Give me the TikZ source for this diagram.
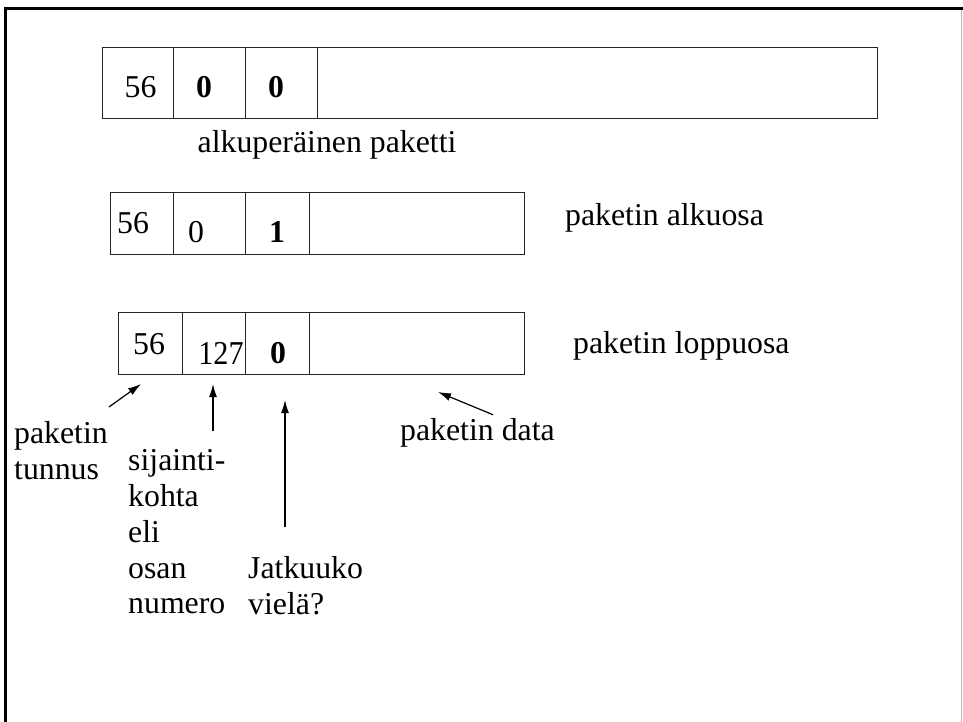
\documentclass[tikz,border=0pt]{standalone}
\usepackage{fontspec}
\setmainfont{Liberation Serif}
\usetikzlibrary{arrows.meta}

\begin{document}
\begin{tikzpicture}[x=1pt,y=-1pt,
        every node/.style={font=\fontsize{31.8}{35.8}\selectfont,inner sep=0pt},
        cell/.style={draw=black!85,line width=1.3pt,anchor=north west,minimum height=62pt},
        pointer/.style={line width=1.2pt,-{Latex[length=13pt,width=8pt]}}]
            \useasboundingbox (0,0) rectangle (963,722);

            %%% FRAME %%%
            \draw[line width=3pt] (5,722)--(5,8.5)--(963,8.5);
            \draw[line width=1.5pt,gray!55] (961.5,10)--(961.5,722);

            %%% ORIGINAL PACKET %%%
            \node[cell,minimum width=71pt,minimum height=71pt] (orig-id) at (102,47) {};
            \node[cell,minimum width=72pt,minimum height=71pt] (orig-pos) at (173,47) {};
            \node[cell,minimum width=72pt,minimum height=71pt] (orig-more) at (245,47) {};
            \node[cell,minimum width=560pt,minimum height=71pt] (orig-data) at (317,47) {};
            \node[anchor=base] (orig-id-v) at (140.5,98) {56};
            \node[anchor=base] (orig-pos-v) at (204,98) {\textbf{0}};
            \node[anchor=base] (orig-more-v) at (276,98) {\textbf{0}};
            \node[anchor=base west] (orig-label) at (197.5,153) {alkuperäinen paketti};

            %%% FIRST PART %%%
            \node[cell,minimum width=63pt] (alku-id) at (110,192) {};
            \node[cell,minimum width=72pt] (alku-pos) at (173,192) {};
            \node[cell,minimum width=64pt] (alku-more) at (245,192) {};
            \node[cell,minimum width=215pt] (alku-data) at (309,192) {};
            \node[anchor=base] (alku-id-v) at (133,233) {56};
            \node[anchor=base] (alku-pos-v) at (196,242) {0};
            \node[anchor=base] (alku-more-v) at (277,242) {\textbf{1}};
            \node[anchor=base west] (alku-label) at (565,225) {paketin alkuosa};

            %%% LAST PART %%%
            \node[cell,minimum width=64pt] (loppu-id) at (117.7,312) {};
            \node[cell,minimum width=63.3pt] (loppu-pos) at (181.7,312) {};
            \node[cell,minimum width=64pt] (loppu-more) at (245,312) {};
            \node[cell,minimum width=215pt] (loppu-data) at (309,312) {};
            \node[anchor=base] (loppu-id-v) at (149,354) {56};
            \node[anchor=base] (loppu-pos-v) at (221,364) {\scalebox{0.95}[1.05]{127}};
            \node[anchor=base] (loppu-more-v) at (278,363) {\textbf{0}};
            \node[anchor=base west] (loppu-label) at (573,353) {paketin loppuosa};

            %%% FIELD NAMES %%%
            \node[anchor=north west,align=left] (tunnus-label) at (14,421) {paketin\\tunnus};
            \node[anchor=north west,align=left] (kohta-label) at (128,449.5) {sijainti-\\kohta\\eli\\osan\\numero};
            \node[anchor=north west,align=left] (jatkuu-label) at (248,556) {Jatkuuko\\vielä?};
            \node[anchor=base west] (data-label) at (400,440) {paketin data};

            %%% POINTERS %%%
            \coordinate (tunnus-tip) at (141,384);
            \coordinate (kohta-tip) at (213,384);
            \coordinate (jatkuu-tip) at (285,400);
            \coordinate (data-tip) at (438,392);
            \draw[pointer] ([shift={(95,-14)}]tunnus-label.north west)--(tunnus-tip);
            \draw[pointer] ([shift={(85,-18.5)}]kohta-label.north west)--(kohta-tip);
            \draw[pointer] ([shift={(37,-29)}]jatkuu-label.north west)--(jatkuu-tip);
            \draw[pointer] ([shift={(93,-3)}]data-label.north west)--(data-tip);
        \end{tikzpicture}
\end{document}
